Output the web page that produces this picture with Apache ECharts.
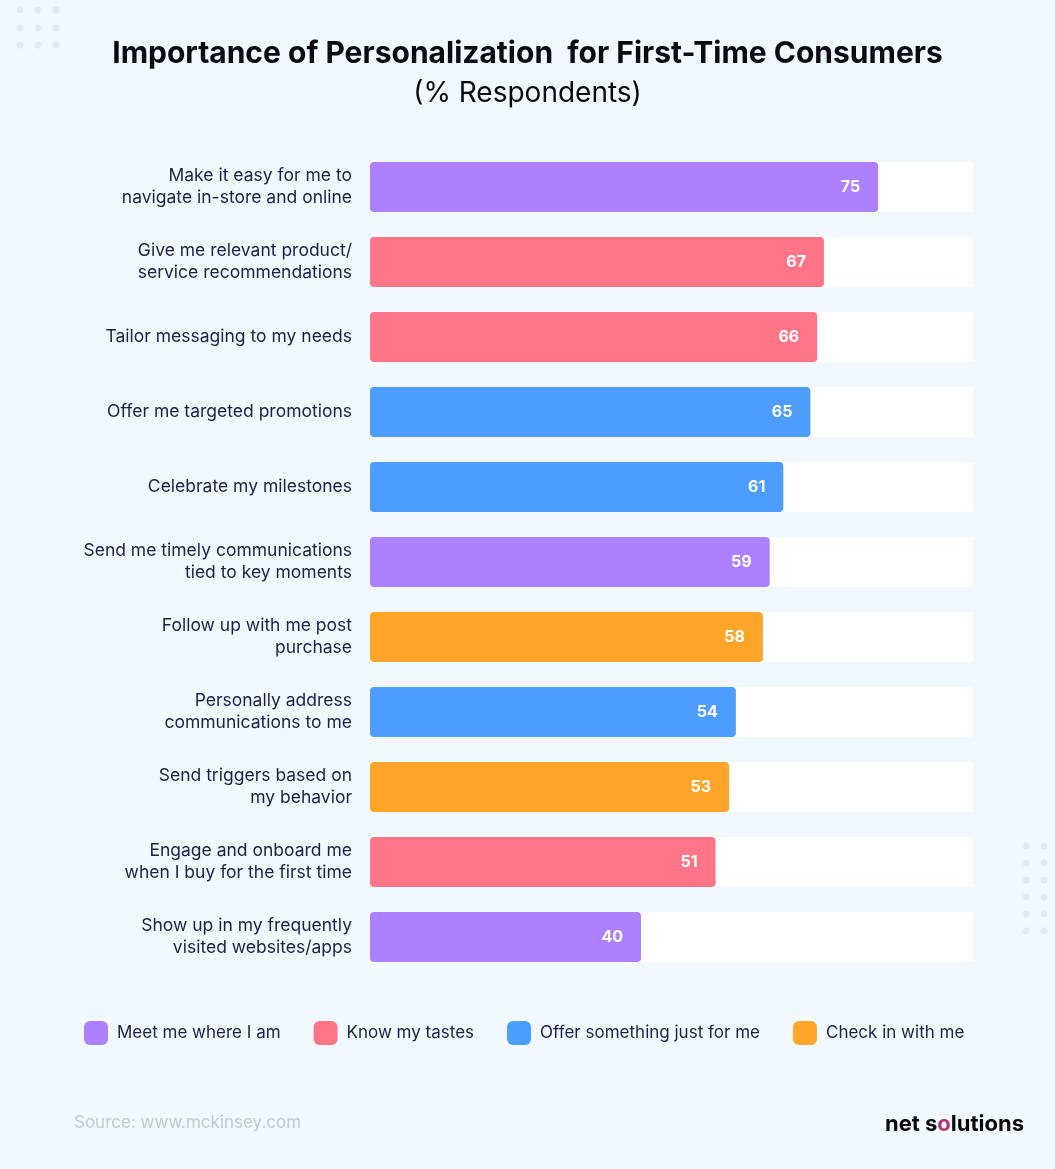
<!DOCTYPE html>
<html>
<head>
<meta charset="utf-8">
<script src="https://cdn.jsdelivr.net/npm/echarts@6/dist/echarts.min.js"></script>
<style>
html,body{margin:0;padding:0;background:#F1F8FE;}
#main{width:1055px;height:1169px;}
</style>
</head>
<body>
<div id="main"></div>
<script>
var categories = [
  'Make it easy for me to\nnavigate in-store and online',
  'Give me relevant product/\nservice recommendations',
  'Tailor messaging to my needs',
  'Offer me targeted promotions',
  'Celebrate my milestones',
  'Send me timely communications\ntied to key moments',
  'Follow up with me post\npurchase',
  'Personally address\ncommunications to me',
  'Send triggers based on\nmy behavior',
  'Engage and onboard me\nwhen I buy for the first time',
  'Show up in my frequently\nvisited websites/apps'
];
var values = [75, 67, 66, 65, 61, 59, 58, 54, 53, 51, 40];
var groupNames = ['Meet me where I am', 'Know my tastes', 'Offer something just for me', 'Check in with me'];
var groupOfCategory = [0, 1, 1, 2, 2, 0, 3, 2, 3, 1, 0];
var groupColors = ['#AD80FF', '#FF7588', '#4D9DFF', '#FFA52A'];
var axisMax = 89;

var FONT = 'Inter, "Noto Sans", sans-serif';
var NAVY = '#1C1F4A';

var series = groupNames.map(function (name, g) {
  return {
    name: name,
    type: 'bar',
    stack: 'all',
    barWidth: 50,
    showBackground: true,
    backgroundStyle: { color: '#FFFFFF', borderRadius: 4 },
    itemStyle: { color: groupColors[g], borderRadius: 4 },
    label: {
      show: true,
      position: 'insideRight',
      distance: 18,
      color: '#FFFFFF',
      fontFamily: FONT,
      fontWeight: 'bold',
      fontSize: 16
    },
    data: values.map(function (v, i) { return groupOfCategory[i] === g ? v : '-'; })
  };
});

var dots = [];
[20, 38, 56].forEach(function (x) {
  [10, 28, 45].forEach(function (y) {
    dots.push({ type: 'circle', shape: { cx: x, cy: y, r: 3.5 }, style: { fill: '#E3E8F2' }, silent: true });
  });
});
[1026, 1044].forEach(function (x) {
  [846, 863, 880, 897, 914, 931].forEach(function (y) {
    dots.push({ type: 'circle', shape: { cx: x, cy: y, r: 3.5 }, style: { fill: '#E3E8F2' }, silent: true });
  });
});

var chart = echarts.init(document.getElementById('main'), null, { renderer: 'canvas' });
chart.setOption({
  backgroundColor: '#F1F8FE',
  animation: false,
  title: [
    {
      text: 'Importance of Personalization  for First-Time Consumers',
      left: 'center',
      top: 34,
      textStyle: { fontFamily: FONT, fontSize: 30, fontWeight: 'bold', color: '#0A0A14' }
    },
    {
      text: '(% Respondents)',
      left: 'center',
      top: 75,
      textStyle: { fontFamily: FONT, fontSize: 28, fontWeight: 'normal', color: '#0A0A14' }
    }
  ],
  legend: {
    left: 79,
    top: 1016,
    itemWidth: 24,
    itemHeight: 24,
    itemGap: 33,
    icon: 'roundRect',
    textStyle: { fontFamily: FONT, fontSize: 17, color: NAVY, padding: [0, 0, 0, 4] },
    data: groupNames
  },
  grid: { left: 370, right: 82, top: 149.5, bottom: 194.5, containLabel: false },
  xAxis: {
    type: 'value',
    min: 0,
    max: axisMax,
    show: false
  },
  yAxis: {
    type: 'category',
    inverse: true,
    data: categories,
    axisLine: { show: false },
    axisTick: { show: false },
    axisLabel: {
      margin: 18,
      fontFamily: FONT,
      fontSize: 17.5,
      lineHeight: 22,
      color: NAVY,
      align: 'right'
    }
  },
  series: series,
  graphic: dots.concat([
    {
      type: 'text',
      left: 74,
      top: 1114,
      style: { text: 'Source: www.mckinsey.com', font: '17px ' + FONT, fill: '#C3C8D1' }
    },
    {
      type: 'text',
      right: 31,
      top: 1113,
      style: {
        text: '{a|net s}{o|o}{a|lutions}',
        rich: {
          a: { font: 'bold 22px ' + FONT, fill: '#0A0A0A' },
          o: { font: 'bold 22px ' + FONT, fill: '#B5367A' }
        }
      }
    }
  ])
});
</script>
</body>
</html>
